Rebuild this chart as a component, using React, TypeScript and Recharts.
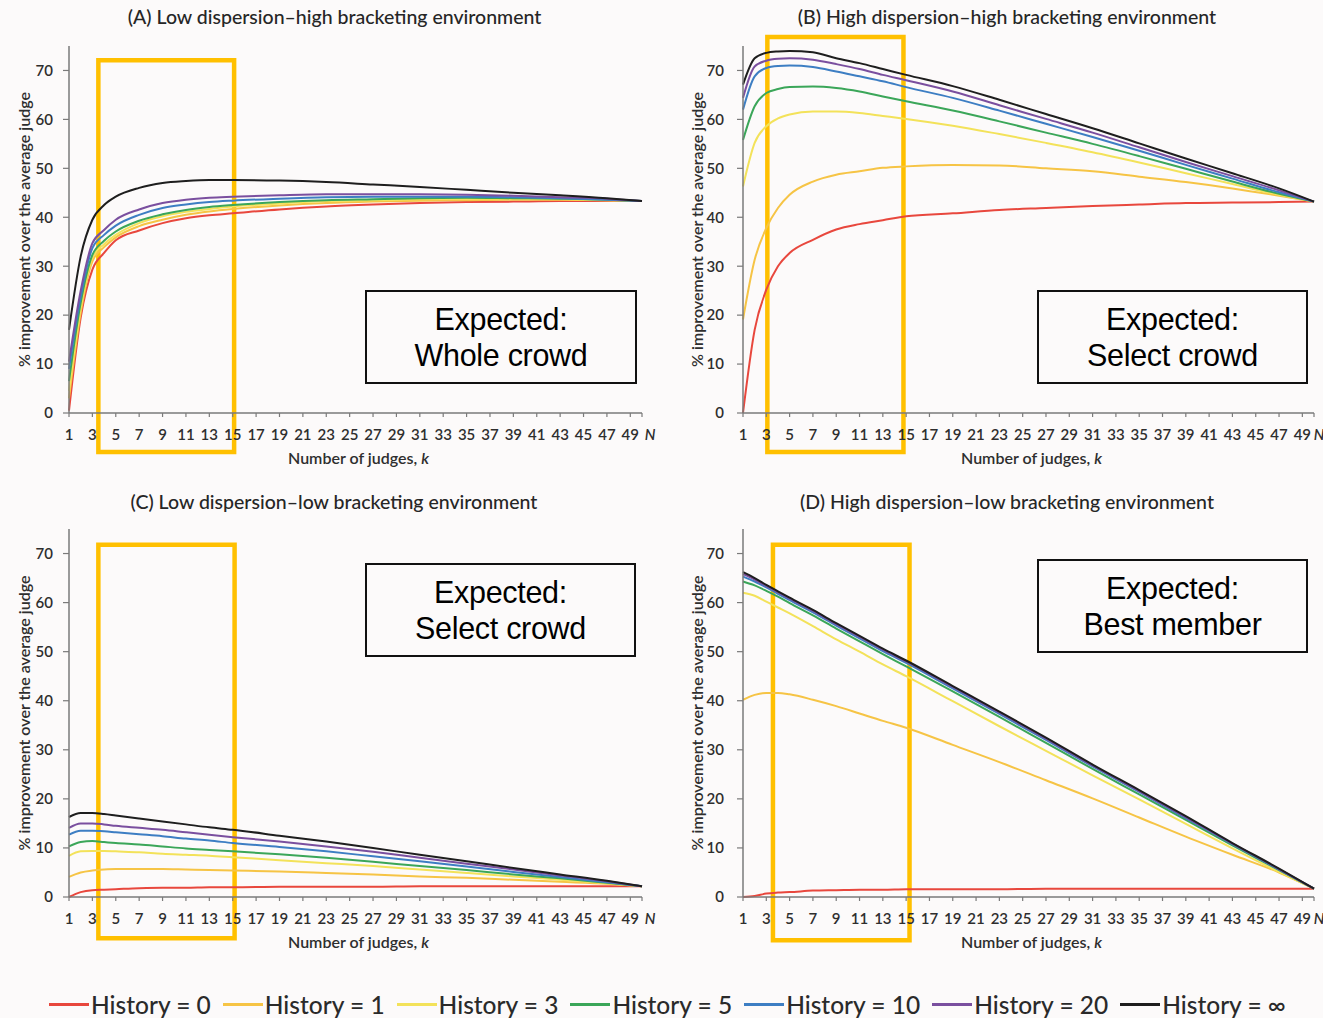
import React from 'react';
import { LineChart, Line, XAxis, YAxis, ReferenceArea } from 'recharts';

// ---------- shared categories / ticks ----------
const kValues = [1, 2, 3, 4, 5, 7, 9, 11, 13, 15, 19, 23, 27, 31, 35, 39, 43, 47, 50];
const xTicks = [1, 3, 5, 7, 9, 11, 13, 15, 17, 19, 21, 23, 25, 27, 29, 31, 33, 35, 37, 39, 41, 43, 45, 47, 49, 50];
const yTicks = [0, 10, 20, 30, 40, 50, 60, 70];
const seriesNames = ['History = 0', 'History = 1', 'History = 3', 'History = 5', 'History = 10', 'History = 20', 'History = \u221E'];
const seriesColors = ['#E8473D', '#F6C445', '#F3E25A', '#3BA659', '#3D7EC3', '#7A4F9F', '#1E1E1E'];

// ---------- Panel A: low dispersion - high bracketing ----------
const aHist0 = [0.5, 19.5, 29.3, 32.7, 35.3, 37.3, 38.8, 39.8, 40.4, 40.8, 41.6, 42.2, 42.6, 42.9, 43.1, 43.2, 43.3, 43.3, 43.3];
const aHist1 = [3.0, 20.5, 31.0, 33.9, 35.9, 38.2, 39.5, 40.5, 41.2, 41.7, 42.4, 42.9, 43.2, 43.4, 43.5, 43.6, 43.6, 43.5, 43.3];
const aHist3 = [4.5, 21.5, 31.7, 34.5, 36.4, 38.8, 40.2, 41.1, 41.7, 42.2, 42.8, 43.3, 43.5, 43.7, 43.8, 43.8, 43.7, 43.5, 43.3];
const aHist5 = [6.5, 22.5, 32.3, 35.2, 37.1, 39.3, 40.6, 41.5, 42.1, 42.5, 43.1, 43.5, 43.7, 43.9, 44.0, 43.9, 43.8, 43.6, 43.3];
const aHist10 = [9.0, 23.8, 33.7, 36.4, 38.3, 40.5, 41.9, 42.6, 43.1, 43.4, 43.8, 44.1, 44.2, 44.2, 44.2, 44.1, 43.9, 43.6, 43.3];
const aHist20 = [10.5, 25.0, 34.7, 37.4, 39.5, 41.6, 42.9, 43.6, 44.0, 44.2, 44.5, 44.7, 44.7, 44.7, 44.6, 44.4, 44.1, 43.8, 43.3];
const aHistInf = [17.0, 32.0, 39.5, 42.5, 44.2, 46.0, 47.0, 47.4, 47.6, 47.6, 47.5, 47.2, 46.7, 46.2, 45.6, 45.0, 44.5, 43.9, 43.3];

// ---------- Panel B: high dispersion - high bracketing ----------
const bHist0 = [0.0, 17.0, 25.2, 30.0, 32.7, 35.4, 37.5, 38.6, 39.4, 40.2, 40.8, 41.5, 41.9, 42.3, 42.6, 42.9, 43.0, 43.1, 43.2];
const bHist1 = [19.1, 31.3, 37.8, 41.9, 44.6, 47.3, 48.7, 49.4, 50.1, 50.4, 50.7, 50.6, 50.0, 49.4, 48.3, 47.2, 45.9, 44.4, 43.2];
const bHist3 = [46.3, 55.2, 58.6, 60.2, 61.0, 61.6, 61.6, 61.3, 60.7, 60.1, 58.7, 57.0, 55.2, 53.3, 51.2, 49.0, 46.8, 44.6, 43.2];
const bHist5 = [55.8, 62.7, 65.4, 66.2, 66.6, 66.7, 66.4, 65.7, 64.7, 63.7, 61.8, 59.6, 57.3, 55.0, 52.5, 49.9, 47.3, 44.8, 43.2];
const bHist10 = [62.0, 68.8, 70.5, 70.9, 71.0, 70.7, 69.8, 68.8, 67.8, 66.6, 64.4, 61.8, 59.1, 56.4, 53.6, 50.7, 47.9, 45.1, 43.2];
const bHist20 = [64.4, 70.8, 72.0, 72.4, 72.5, 72.2, 71.3, 70.3, 69.1, 68.0, 65.7, 62.9, 60.1, 57.3, 54.3, 51.3, 48.4, 45.5, 43.2];
const bHistInf = [67.1, 72.5, 73.6, 73.9, 74.0, 73.7, 72.5, 71.5, 70.3, 69.1, 66.8, 64.0, 61.1, 58.2, 55.1, 52.0, 49.0, 45.9, 43.2];

// ---------- Panel C: low dispersion - low bracketing ----------
const cHist0 = [0.0, 1.0, 1.4, 1.5, 1.6, 1.8, 1.9, 1.9, 2.0, 2.0, 2.1, 2.1, 2.1, 2.2, 2.2, 2.2, 2.2, 2.2, 2.2];
const cHist1 = [4.1, 5.0, 5.4, 5.6, 5.7, 5.7, 5.7, 5.6, 5.5, 5.4, 5.2, 4.9, 4.6, 4.2, 3.9, 3.5, 3.1, 2.7, 2.2];
const cHist3 = [8.4, 9.3, 9.4, 9.4, 9.3, 9.1, 8.8, 8.6, 8.4, 8.1, 7.5, 6.9, 6.3, 5.6, 4.9, 4.2, 3.5, 2.8, 2.2];
const cHist5 = [10.3, 11.2, 11.4, 11.2, 11.0, 10.7, 10.3, 9.9, 9.6, 9.3, 8.7, 8.0, 7.2, 6.3, 5.5, 4.6, 3.8, 2.9, 2.2];
const cHist10 = [12.7, 13.5, 13.5, 13.4, 13.2, 12.8, 12.4, 11.9, 11.5, 11.0, 10.2, 9.3, 8.3, 7.3, 6.2, 5.1, 4.1, 3.0, 2.2];
const cHist20 = [14.1, 15.0, 15.0, 14.8, 14.5, 14.1, 13.7, 13.2, 12.7, 12.2, 11.3, 10.3, 9.2, 8.0, 6.8, 5.6, 4.4, 3.2, 2.2];
const cHistInf = [16.3, 17.1, 17.1, 16.9, 16.6, 16.0, 15.4, 14.8, 14.2, 13.7, 12.5, 11.3, 10.0, 8.6, 7.3, 5.9, 4.6, 3.3, 2.2];

// ---------- Panel D: high dispersion - low bracketing ----------
const dHist0 = [0.0, 0.2, 0.7, 0.9, 1.0, 1.3, 1.4, 1.5, 1.5, 1.6, 1.6, 1.6, 1.7, 1.7, 1.7, 1.7, 1.7, 1.7, 1.7];
const dHist1 = [40.2, 41.2, 41.6, 41.6, 41.3, 40.2, 38.9, 37.4, 35.9, 34.5, 31.0, 27.5, 23.8, 20.1, 16.2, 12.3, 8.6, 5.0, 1.7];
const dHist3 = [62.0, 61.4, 60.2, 59.0, 57.8, 55.2, 52.5, 50.0, 47.4, 45.0, 39.9, 34.8, 29.8, 24.8, 19.9, 14.9, 9.9, 5.1, 1.7];
const dHist5 = [64.3, 63.5, 62.4, 61.2, 59.9, 57.4, 54.7, 52.1, 49.5, 47.0, 41.9, 36.7, 31.4, 26.1, 20.9, 15.7, 10.5, 5.5, 1.7];
const dHist10 = [65.3, 64.3, 63.1, 61.8, 60.5, 58.0, 55.3, 52.7, 50.1, 47.7, 42.5, 37.3, 32.0, 26.6, 21.4, 16.1, 10.8, 5.6, 1.7];
const dHist20 = [65.8, 64.7, 63.4, 62.1, 60.8, 58.3, 55.6, 53.0, 50.4, 48.0, 42.8, 37.6, 32.3, 26.8, 21.6, 16.3, 10.9, 5.7, 1.7];
const dHistInf = [66.2, 65.0, 63.6, 62.3, 61.0, 58.5, 55.8, 53.2, 50.6, 48.2, 43.0, 37.8, 32.5, 27.0, 21.8, 16.5, 11.0, 5.8, 1.7];

// ---------- highlight (yellow) boxes, in data units: [k1, k2, v1, v2] ----------
const boxA = [3.51, 15.12, -7.97, 72.1];
const boxB = [3.09, 14.77, -7.97, 76.85];
const boxC = [3.51, 15.16, -8.4, 71.8];
const boxD = [3.57, 15.29, -8.8, 71.8];

const titles = [
  '(A) Low dispersion\u2013high bracketing environment',
  '(B) High dispersion\u2013high bracketing environment',
  '(C) Low dispersion\u2013low bracketing environment',
  '(D) High dispersion\u2013low bracketing environment',
];
const expectedLines = [
  ['Expected:', 'Whole crowd'],
  ['Expected:', 'Select crowd'],
  ['Expected:', 'Select crowd'],
  ['Expected:', 'Best member'],
];

const buildRows = (cols: number[][]) =>
  kValues.map((k, i) => {
    const row: any = { k };
    cols.forEach((c, j) => {
      row['h' + j] = c[i];
    });
    return row;
  });

const dataA = buildRows([aHist0, aHist1, aHist3, aHist5, aHist10, aHist20, aHistInf]);
const dataB = buildRows([bHist0, bHist1, bHist3, bHist5, bHist10, bHist20, bHistInf]);
const dataC = buildRows([cHist0, cHist1, cHist3, cHist5, cHist10, cHist20, cHistInf]);
const dataD = buildRows([dHist0, dHist1, dHist3, dHist5, dHist10, dHist20, dHistInf]);

const FONT = 'Lato, "Open Sans", sans-serif';
const TEXT_COLOR = '#2e2e2e';
const AXIS_COLOR = '#7a7a7a';

const makeXTick = (nShift: number) => (props: any) => {
  const { x, y, payload } = props;
  const isN = payload.value === 50;
  return (
    <text
      x={x + (isN ? nShift : 0)}
      y={y}
      dy="0.71em"
      textAnchor="middle"
      fill={TEXT_COLOR}
      fontSize={15}
      fontWeight={600}
      fontFamily={FONT}
      fontStyle={isN ? 'italic' : 'normal'}
    >
      {isN ? 'N' : payload.value}
    </text>
  );
};

const makeXLabel = () => (props: any) => {
  const vb = props.viewBox || {};
  const cx = vb.x + vb.width / 2 + 3;
  const cy = vb.y + 44;
  return (
    <text x={cx} y={cy} textAnchor="middle" dominantBaseline="central" fill={TEXT_COLOR} fontSize={16} fontWeight={600} fontFamily={FONT}>
      Number of judges, <tspan fontStyle="italic">k</tspan>
    </text>
  );
};

const makeYLabel = (dist: number) => (props: any) => {
  const vb = props.viewBox || {};
  const cx = vb.x + vb.width - dist;
  const cy = vb.y + vb.height / 2;
  return (
    <text
      x={cx}
      y={cy}
      textAnchor="middle"
      dominantBaseline="central"
      transform={`rotate(-90, ${cx}, ${cy})`}
      fill={TEXT_COLOR}
      fontSize={16}
      fontWeight={600}
      fontFamily={FONT}
    >
      % improvement over the average judge
    </text>
  );
};

type PanelProps = {
  data: any[];
  box: number[];
  left: number;
  top: number;
  width: number;
  height: number;
  marginTop: number;
  marginRight: number;
  yAxisWidth: number;
  xAxisHeight: number;
  yLabelDist: number;
  tickMargin: number;
  nShift: number;
};

const Panel = (p: PanelProps) => {
  const XTick = makeXTick(p.nShift);
  return (
    <div style={{ position: 'absolute', left: p.left, top: p.top }}>
      <LineChart
        width={p.width}
        height={p.height}
        data={p.data}
        margin={{ top: p.marginTop, right: p.marginRight, bottom: 0, left: 0 }}
      >
        <XAxis
          dataKey="k"
          type="number"
          domain={[1, 50]}
          ticks={xTicks}
          interval={0}
          height={p.xAxisHeight}
          tickSize={4}
          tickMargin={12}
          axisLine={{ stroke: AXIS_COLOR, strokeWidth: 1.5 }}
          tickLine={{ stroke: AXIS_COLOR, strokeWidth: 1.2 }}
          tick={<XTick />}
          label={makeXLabel()}
        />
        <YAxis
          type="number"
          domain={[0, 75]}
          ticks={yTicks}
          interval={0}
          width={p.yAxisWidth}
          tickSize={6}
          tickMargin={p.tickMargin}
          axisLine={{ stroke: AXIS_COLOR, strokeWidth: 1.5 }}
          tickLine={{ stroke: AXIS_COLOR, strokeWidth: 1.2 }}
          tick={{ fill: TEXT_COLOR, fontSize: 15, fontWeight: 600, fontFamily: FONT }}
          label={makeYLabel(p.yLabelDist)}
        />
        {seriesNames.map((name, j) => (
          <Line
            key={name}
            dataKey={'h' + j}
            name={name}
            type="monotone"
            stroke={seriesColors[j]}
            strokeWidth={2}
            dot={false}
            activeDot={false}
            isAnimationActive={false}
          />
        ))}
        <ReferenceArea
          x1={p.box[0]}
          x2={p.box[1]}
          y1={p.box[2]}
          y2={p.box[3]}
          ifOverflow="visible"
          fill="none"
          fillOpacity={0}
          stroke="#FFC000"
          strokeWidth={4.5}
          strokeOpacity={1}
        />
      </LineChart>
    </div>
  );
};

const Title = ({ text, cx, cy }: { text: string; cx: number; cy: number }) => (
  <div
    style={{
      position: 'absolute',
      left: cx - 300,
      top: cy - 12,
      width: 600,
      height: 24,
      lineHeight: '24px',
      textAlign: 'center',
      fontFamily: FONT,
      fontSize: 19.5,
      fontWeight: 500,
      color: '#262626',
      whiteSpace: 'nowrap',
    }}
  >
    {text}
  </div>
);

const ExpectedBox = ({ lines, left, top, width, height }: { lines: string[]; left: number; top: number; width: number; height: number }) => (
  <div
    style={{
      position: 'absolute',
      left,
      top,
      width,
      height,
      boxSizing: 'border-box',
      border: '2px solid #111',
      display: 'flex',
      flexDirection: 'column',
      alignItems: 'center',
      justifyContent: 'center',
      fontFamily: '"Liberation Sans", Arial, sans-serif',
      fontSize: 30.5,
      lineHeight: '36px',
      color: '#000',
      letterSpacing: -0.3,
    }}
  >
    {lines.map((l) => (
      <div key={l}>{l}</div>
    ))}
  </div>
);

const Legend = () => (
  <div
    style={{
      position: 'absolute',
      left: 49,
      top: 988,
      height: 32,
      display: 'flex',
      alignItems: 'center',
      gap: 12,
      fontFamily: FONT,
      fontSize: 24.5,
      fontWeight: 500,
      color: '#2a2a2a',
      whiteSpace: 'nowrap',
    }}
  >
    {seriesNames.map((name, j) => (
      <div key={name} style={{ display: 'flex', alignItems: 'center' }}>
        <span style={{ display: 'inline-block', width: 40, height: 3, background: seriesColors[j], marginRight: 2 }} />
        <span>{name}</span>
      </div>
    ))}
  </div>
);

export default function App() {
  return (
    <div
      style={{
        position: 'absolute',
        left: 0,
        top: 0,
        width: 1323,
        height: 1018,
        background: '#fcfafa',
        overflow: 'hidden',
      }}
    >
      <Panel data={dataA} box={boxA} left={0} top={0} width={660} height={480} marginTop={46} marginRight={18} yAxisWidth={69} xAxisHeight={67} yLabelDist={45.5} tickMargin={10} nShift={8} />
      <Panel data={dataB} box={boxB} left={660} top={0} width={663} height={480} marginTop={46} marginRight={9} yAxisWidth={83} xAxisHeight={67} yLabelDist={47} tickMargin={13} nShift={5} />
      <Panel data={dataC} box={boxC} left={0} top={480} width={660} height={480} marginTop={49} marginRight={18} yAxisWidth={69} xAxisHeight={63} yLabelDist={45.5} tickMargin={10} nShift={8} />
      <Panel data={dataD} box={boxD} left={660} top={480} width={663} height={480} marginTop={49} marginRight={9} yAxisWidth={83} xAxisHeight={63} yLabelDist={47} tickMargin={13} nShift={5} />

      <Title text={titles[0]} cx={334.6} cy={17.3} />
      <Title text={titles[1]} cx={1007} cy={17.3} />
      <Title text={titles[2]} cx={334} cy={501.7} />
      <Title text={titles[3]} cx={1007} cy={501.7} />

      <ExpectedBox lines={expectedLines[0]} left={365} top={290} width={272} height={94} />
      <ExpectedBox lines={expectedLines[1]} left={1037} top={290} width={271} height={94} />
      <ExpectedBox lines={expectedLines[2]} left={365} top={563} width={271} height={94} />
      <ExpectedBox lines={expectedLines[3]} left={1037} top={559} width={271} height={94} />

      <Legend />
    </div>
  );
}
